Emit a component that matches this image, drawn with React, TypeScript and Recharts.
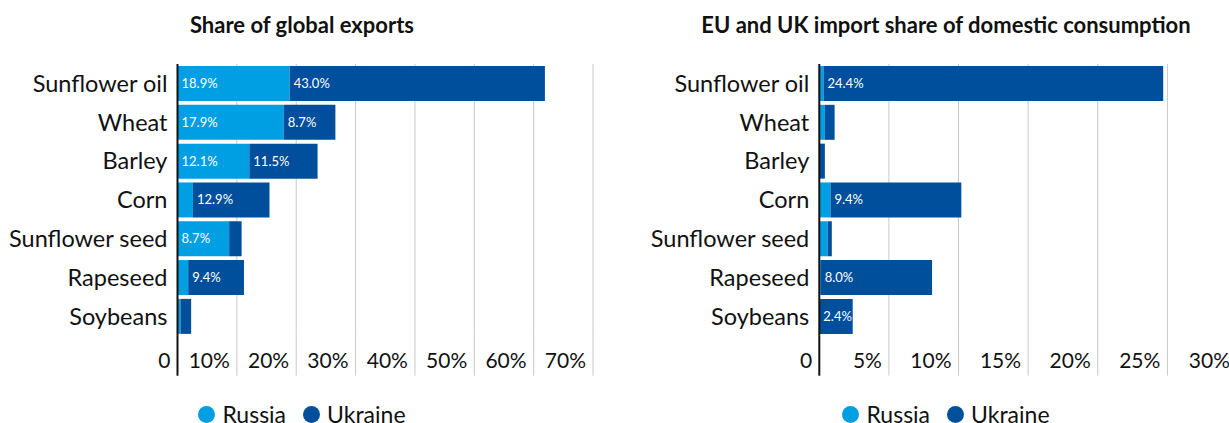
import React from "react";
import { BarChart, Bar, XAxis, YAxis, CartesianGrid, LabelList } from "recharts";

const CATEGORIES = ["Sunflower oil", "Wheat", "Barley", "Corn", "Sunflower seed", "Rapeseed", "Soybeans"];

// share of global exports (%)
const EXPORT_RUSSIA = [18.9, 17.9, 12.1, 2.6, 8.7, 1.8, 0.5];
const EXPORT_UKRAINE = [43.0, 8.7, 11.5, 12.9, 2.1, 9.4, 1.8];
const EXPORT_TICKS = [0, 10, 20, 30, 40, 50, 60, 70];

// EU + UK import share of domestic consumption (%)
const IMPORT_RUSSIA = [0.3, 0.4, 0, 0.8, 0.6, 0.1, 0];
const IMPORT_UKRAINE = [24.4, 0.7, 0.4, 9.4, 0.3, 8.0, 2.4];
const IMPORT_TICKS = [0, 5, 10, 15, 20, 25, 30];

const LIGHT = "#009fe3";
const DARK = "#004f9c";
const FONT = "Lato, 'Noto Sans', sans-serif";

const exportRows = CATEGORIES.map((name, i) => ({ name, russia: EXPORT_RUSSIA[i], ukraine: EXPORT_UKRAINE[i] }));
const importRows = CATEGORIES.map((name, i) => ({ name, russia: IMPORT_RUSSIA[i], ukraine: IMPORT_UKRAINE[i] }));

const AxisTick = (props: any) => {
  const { x, y, payload } = props;
  const v = payload.value;
  return (
    <g>
      <line
        x1={x}
        x2={x}
        y1={y}
        y2={y + 40}
        stroke={v === 0 ? "#111" : "#c8c8c8"}
        strokeWidth={v === 0 ? 2 : 1}
      />
      <text x={x - 7} y={y + 32.5} textAnchor="end" fontSize={21} fill="#111" fontFamily={FONT}>
        {v === 0 ? "0" : `${v}%`}
      </text>
    </g>
  );
};

const BarLabel = (props: any) => {
  const { x, y, width, height, value } = props;
  if (width < 30) return null;
  return (
    <text x={x + 4} y={y + height / 2} dy="0.35em" fill="#fff" fontSize={13} fontFamily={FONT}>
      {Number(value).toFixed(1)}%
    </text>
  );
};

function Panel({ left, width, yWidth, center, title, rows, ticks }: any) {
  return (
    <div style={{ position: "absolute", left, top: 0, width, height: 423 }}>
      <BarChart
        width={width}
        height={380}
        data={rows}
        layout="vertical"
        margin={{ top: 64, right: 7, bottom: 4.3, left: 0 }}
        barCategoryGap={2}
      >
        <CartesianGrid horizontal={false} stroke="#c8c8c8" />
        <XAxis
          type="number"
          domain={[0, ticks[ticks.length - 1]]}
          ticks={ticks}
          interval={0}
          height={40}
          axisLine={false}
          tickLine={false}
          tickSize={0}
          tickMargin={0}
          tick={<AxisTick />}
        />
        <YAxis
          type="category"
          dataKey="name"
          width={yWidth}
          axisLine={{ stroke: "#111", strokeWidth: 2 }}
          tickLine={false}
          tickSize={0}
          tickMargin={10}
          interval={0}
          tick={{ fontSize: 23.5, fill: "#111", fontFamily: FONT }}
        />
        <Bar dataKey="russia" stackId="s" fill={LIGHT} isAnimationActive={false}>
          <LabelList dataKey="russia" content={<BarLabel />} />
        </Bar>
        <Bar dataKey="ukraine" stackId="s" fill={DARK} isAnimationActive={false}>
          <LabelList dataKey="ukraine" content={<BarLabel />} />
        </Bar>
      </BarChart>
      <div
        style={{
          position: "absolute",
          top: 11,
          left: center - 300,
          width: 600,
          textAlign: "center",
          fontFamily: FONT,
          fontWeight: 700,
          fontSize: 22,
          color: "#111",
        }}
      >
        {title}
      </div>
      <div
        style={{
          position: "absolute",
          top: 399,
          left: center - 150,
          width: 300,
          display: "flex",
          justifyContent: "center",
          alignItems: "center",
          gap: 17,
          fontFamily: FONT,
          fontSize: 23,
          color: "#111",
          lineHeight: "30px",
        }}
      >
        {[
          ["Russia", LIGHT],
          ["Ukraine", DARK],
        ].map(([label, c]) => (
          <span key={label} style={{ display: "inline-flex", alignItems: "center", gap: 7 }}>
            <span style={{ width: 17, height: 17, borderRadius: 9, background: c, display: "inline-block" }} />
            {label}
          </span>
        ))}
      </div>
    </div>
  );
}

export default function App() {
  return (
    <div
      style={{
        position: "fixed",
        left: 0,
        top: 0,
        width: 1229,
        height: 423,
        overflow: "hidden",
        background: "#fff",
      }}
    >
      <Panel
        left={0}
        width={600}
        yWidth={177.5}
        center={302}
        title="Share of global exports"
        rows={exportRows}
        ticks={EXPORT_TICKS}
      />
      <Panel
        left={620}
        width={624}
        yWidth={199.3}
        center={326}
        title="EU and UK import share of domestic consumption"
        rows={importRows}
        ticks={IMPORT_TICKS}
      />
    </div>
  );
}
